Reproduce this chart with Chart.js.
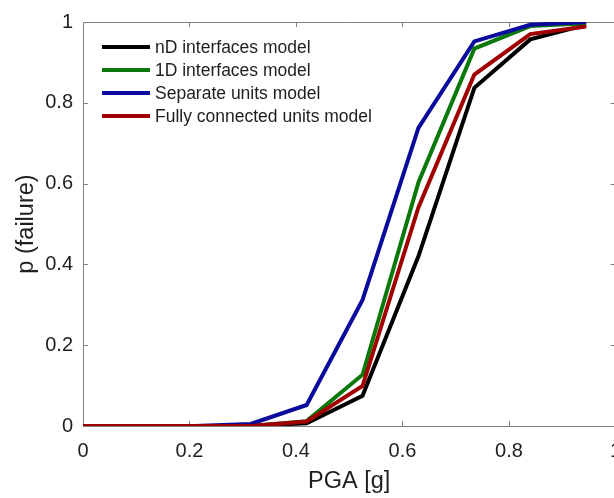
<!DOCTYPE html>
<html>
<head>
<meta charset="utf-8">
<script src="https://cdn.jsdelivr.net/npm/chart.js@4/dist/chart.umd.min.js"></script>
<style>
  html, body { margin: 0; padding: 0; background: #fff; overflow: hidden; }
  #wrap { width: 614px; height: 498px; overflow: hidden; }
</style>
</head>
<body>
<div id="wrap"><canvas id="chart" width="634" height="498"></canvas></div>
<script>
// PGA levels [g]
const pga = [0, 0.105, 0.21, 0.315, 0.42, 0.525, 0.63, 0.735, 0.84, 0.945];

// probability of failure per model
const ndInterfaces = [0, 0, 0, 0, 0.007, 0.075, 0.42, 0.837, 0.957, 0.993];
const oneDInterfaces = [0, 0, 0, 0, 0.012, 0.127, 0.603, 0.934, 0.990, 0.997];
const separateUnits = [0, 0, 0, 0.005, 0.052, 0.312, 0.738, 0.952, 0.993, 1.0];
const fullyConnected = [0, 0, 0, 0, 0.011, 0.099, 0.541, 0.870, 0.970, 0.989];

const seriesNames = ['nD interfaces model', '1D interfaces model', 'Separate units model', 'Fully connected units model'];
const seriesColors = ['#000000', '#0a780a', '#0a0a9c', '#a00000'];

const xTicks = [0, 0.2, 0.4, 0.6, 0.8, 1];
const xTickLabels = ['0', '0.2', '0.4', '0.6', '0.8', '1'];
const yTicks = [0, 0.2, 0.4, 0.6, 0.8, 1];
const yTickLabels = ['0', '0.2', '0.4', '0.6', '0.8', '1'];

const axisColor = '#808080';
const textColor = '#1e1e1e';
const fontFamily = '"Liberation Sans", Arial, sans-serif';

function toPoints(values) {
  return values.map((v, i) => ({ x: pga[i], y: v }));
}

const allSeries = [ndInterfaces, oneDInterfaces, separateUnits, fullyConnected];

// matlab style box with inward ticks
const boxPlugin = {
  id: 'box',
  beforeDatasetsDraw(chart) {
    const { ctx, chartArea: a, scales } = chart;
    const len = 5;
    ctx.save();
    ctx.strokeStyle = axisColor;
    ctx.lineWidth = 1;
    ctx.beginPath();
    ctx.moveTo(a.left, a.top + 0.5);
    ctx.lineTo(a.right, a.top + 0.5);
    ctx.moveTo(a.right - 0.5, a.top);
    ctx.lineTo(a.right - 0.5, a.bottom);
    xTicks.forEach(v => {
      const x = Math.round(scales.x.getPixelForValue(v)) + 0.5;
      ctx.moveTo(x, a.bottom);
      ctx.lineTo(x, a.bottom - len);
      ctx.moveTo(x, a.top);
      ctx.lineTo(x, a.top + len);
    });
    yTicks.forEach(v => {
      const y = Math.round(scales.y.getPixelForValue(v)) + 0.5;
      ctx.moveTo(a.left, y);
      ctx.lineTo(a.left + len, y);
      ctx.moveTo(a.right, y);
      ctx.lineTo(a.right - len, y);
    });
    ctx.stroke();
    ctx.restore();
  }
};

// legend inside the axes, upper left
const legendPlugin = {
  id: 'insideLegend',
  afterDatasetsDraw(chart) {
    const { ctx } = chart;
    const x0 = 102, lineLen = 48, gap = 5, y0 = 47, step = 23;
    ctx.save();
    ctx.font = '17.5px ' + fontFamily;
    ctx.textBaseline = 'middle';
    ctx.textAlign = 'left';
    seriesNames.forEach((name, i) => {
      const y = y0 + i * step;
      ctx.strokeStyle = seriesColors[i];
      ctx.lineWidth = 4;
      ctx.beginPath();
      ctx.moveTo(x0, y);
      ctx.lineTo(x0 + lineLen, y);
      ctx.stroke();
      ctx.fillStyle = textColor;
      ctx.fillText(name, x0 + lineLen + gap, y + 1);
    });
    ctx.restore();
  }
};

new Chart(document.getElementById('chart'), {
  type: 'line',
  data: {
    datasets: allSeries.map((vals, i) => ({
      label: seriesNames[i],
      data: toPoints(vals),
      borderColor: seriesColors[i],
      backgroundColor: seriesColors[i],
      borderWidth: 4,
      pointRadius: 0,
      tension: 0,
      fill: false,
      order: allSeries.length - i
    }))
  },
  options: {
    responsive: false,
    animation: false,
    devicePixelRatio: 1,
    layout: { padding: { top: 20, right: 14, left: 0, bottom: 0 } },
    plugins: {
      legend: { display: false },
      tooltip: { enabled: false }
    },
    scales: {
      x: {
        type: 'linear',
        min: 0,
        max: 1,
        afterBuildTicks: s => { s.ticks = xTicks.map(v => ({ value: v })); },
        afterFit: s => { s.height = 72; },
        grid: { display: false, drawTicks: false },
        border: { display: true, color: axisColor, width: 1 },
        ticks: {
          padding: 13,
          color: textColor,
          font: { family: fontFamily, size: 20 },
          maxRotation: 0,
          callback: (v, i) => xTickLabels[i]
        },
        title: {
          display: true,
          text: 'PGA [g]',
          color: textColor,
          font: { family: fontFamily, size: 23.5 },
          padding: { top: 0, bottom: 2 }
        }
      },
      y: {
        type: 'linear',
        min: 0,
        max: 1,
        afterBuildTicks: s => { s.ticks = yTicks.map(v => ({ value: v })); },
        afterFit: s => { s.width = 83; },
        grid: { display: false, drawTicks: false },
        border: { display: true, color: axisColor, width: 1 },
        ticks: {
          padding: 10,
          color: textColor,
          font: { family: fontFamily, size: 20 },
          callback: (v, i) => yTickLabels[i]
        },
        title: {
          display: true,
          text: 'p (failure)',
          color: textColor,
          font: { family: fontFamily, size: 23.5 },
          padding: { top: 12, bottom: 0 }
        }
      }
    }
  },
  plugins: [boxPlugin, legendPlugin]
});
</script>
</body>
</html>
